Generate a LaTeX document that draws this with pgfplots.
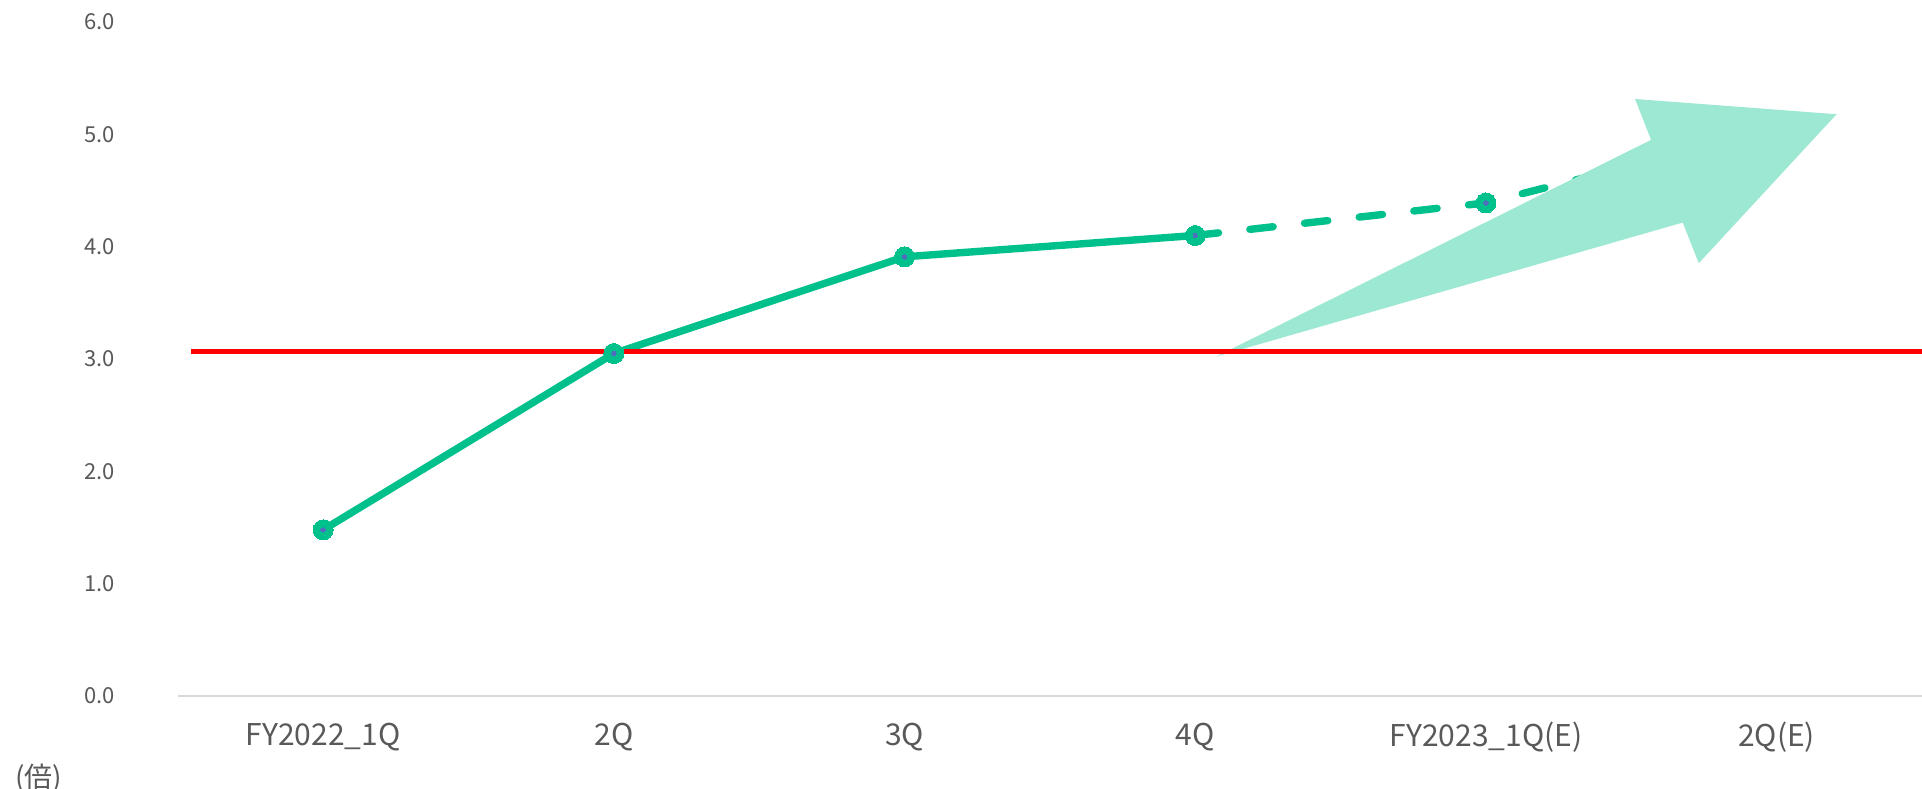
\documentclass[border=0pt]{standalone}
\usepackage{fontspec}
\setmainfont{Noto Sans CJK JP}
\usepackage{pgfplots}
\pgfplotsset{compat=1.18}
\definecolor{grn}{RGB}{0,192,139}
\definecolor{arr}{RGB}{157,232,210}
\definecolor{lbl}{RGB}{89,89,89}
\definecolor{axl}{RGB}{217,217,217}
\definecolor{dotc}{RGB}{80,110,190}
\begin{document}
\begin{tikzpicture}
\useasboundingbox (-88.9pt,-46.2pt) rectangle (872.2pt,348.1pt);
\begin{axis}[
  at={(0pt,0pt)}, anchor=south west,
  scale only axis, width=872.2pt, height=337.1pt,
  xmin=-0.5, xmax=5.5, ymin=0, ymax=6,
  axis lines*=left,
  y axis line style={draw=none},
  x axis line style={draw=axl, line width=1pt},
  tick style={draw=none},
  xtick={0,1,2,3,4,5},
  xticklabels={FY2022\_1Q,2Q,3Q,4Q,FY2023\_1Q(E),2Q(E)},
  ytick={0,1,2,3,4,5,6},
  /pgf/number format/assume math mode=true,
  /pgf/number format/fixed,
  /pgf/number format/fixed zerofill,
  /pgf/number format/precision=1,
  every y tick label/.append style={font=\fontsize{11}{13}\selectfont, text=lbl, xshift=-28pt},
  every x tick label/.append style={font=\fontsize{15}{18}\selectfont, text=lbl, anchor=center, yshift=-20.5pt},
]
% solid green actuals
\addplot[grn, line width=3.7pt, no marks]
  coordinates {(0,1.48) (1,3.05) (2,3.91) (3,4.10)};
% dashed green forecast (last point hidden under the arrow)
\addplot[grn, line width=3.7pt, line cap=round, dash pattern=on 11.7pt off 15.8pt, no marks]
  coordinates {(3,4.10) (4,4.39) (5,5.05)};
% markers
\addplot[grn, only marks, mark=*, mark size=5pt, mark options={solid, draw=grn, fill=grn, line width=0pt}]
  coordinates {(0,1.48) (1,3.05) (2,3.91) (3,4.10) (4,4.39)};
\addplot[dotc, only marks, mark=*, mark size=1.1pt, mark options={solid, draw=dotc, fill=dotc, line width=0pt}]
  coordinates {(0,1.48) (1,3.05) (2,3.91) (3,4.10) (4,4.39)};
% arrow shape
\addplot[fill=arr, draw=none]
  coordinates {(3.072,3.022) (4.568,4.951) (4.513,5.315) (5.206,5.179) (4.732,3.853) (4.677,4.215)} --cycle;
% red reference line
\addplot[red, line width=2.7pt] coordinates {(-0.454,3.065) (5.5,3.065)};
\end{axis}
\node[font=\fontsize{14}{16}\selectfont, text=lbl] at (-69.6pt,-41.2pt) {(倍)};
\end{tikzpicture}
\end{document}
